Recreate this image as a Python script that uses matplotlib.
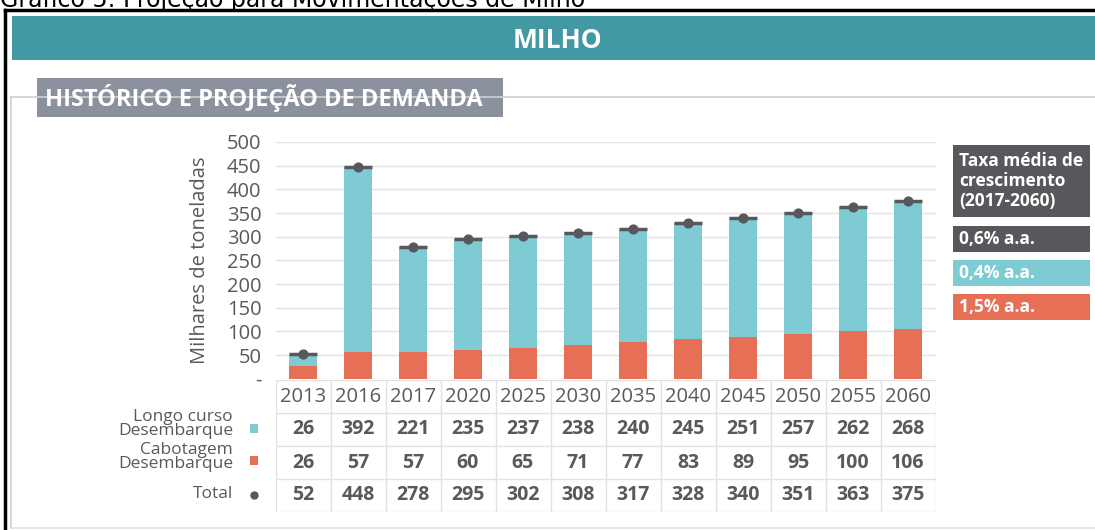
import matplotlib.pyplot as plt
from matplotlib.patches import Rectangle

years = ["2013", "2016", "2017", "2020", "2025", "2030", "2035", "2040", "2045", "2050", "2055", "2060"]
longo_curso = [26, 392, 221, 235, 237, 238, 240, 245, 251, 257, 262, 268]
cabotagem = [26, 57, 57, 60, 65, 71, 77, 83, 89, 95, 100, 106]
total = [52, 448, 278, 295, 302, 308, 317, 328, 340, 351, 363, 375]
taxas = ["0,6% a.a.", "0,4% a.a.", "1,5% a.a."]

CYAN = "#7ECBD3"
ORANGE = "#E76F56"
DARK = "#58585C"
TEAL = "#4298A3"
SUBGRAY = "#8B929E"
TXT = "#595959"
FONT = ["Open Sans", "DejaVu Sans"]

W, H = 1095, 530
fig = plt.figure(figsize=(W / 100, H / 100), dpi=100)


def fx(px):
    return px / W


def fy(py):
    return 1 - py / H


def box(x0, y0, x1, y1, color, **kw):
    fig.add_artist(Rectangle((fx(x0), fy(y1)), fx(x1 - x0), (y1 - y0) / H,
                             transform=fig.transFigure, facecolor=color,
                             edgecolor="none", **kw))


# caption, cut at top edge as in the source image
fig.text(fx(0), fy(7), "Gráfico 5: Projeção para Movimentações de Milho",
         fontsize=17, family="DejaVu Sans", color="black", va="baseline")

# frames
fig.add_artist(plt.Line2D([fx(5), 1], [fy(10), fy(10)], color="black", lw=2.5,
                          transform=fig.transFigure))
fig.add_artist(plt.Line2D([fx(5), fx(5)], [fy(10), 0], color="black", lw=2.5,
                          transform=fig.transFigure))
fig.add_artist(plt.Line2D([fx(11), 1], [fy(97), fy(97)], color="#D0D0D0", lw=1.2,
                          transform=fig.transFigure))
fig.add_artist(plt.Line2D([fx(11), fx(11)], [fy(97), fy(528)], color="#D0D0D0", lw=1.2,
                          transform=fig.transFigure))
fig.add_artist(plt.Line2D([fx(11), 1], [fy(528), fy(528)], color="#E0E0E0", lw=1.2,
                          transform=fig.transFigure))

# headers
box(12, 16, W, 60, TEAL)
fig.text(fx(557), fy(40), "MILHO", color="white", fontsize=19, weight="bold",
         family=FONT, ha="center", va="center")
box(37, 78, 503, 117, SUBGRAY)
fig.text(fx(45), fy(98), "HISTÓRICO E PROJEÇÃO DE DEMANDA", color="white",
         fontsize=17, weight="bold", family=FONT, ha="left", va="center")

# bar chart
ax = fig.add_axes([fx(275.5), fy(378.7), fx(660), (378.7 - 142) / H])
x = list(range(len(years)))
ax.bar(x, cabotagem, width=0.51, color=ORANGE, zorder=2)
ax.bar(x, longo_curso, width=0.51, bottom=cabotagem, color=CYAN, zorder=2)
ax.hlines(total, [i - 0.255 for i in x], [i + 0.255 for i in x], color=DARK, lw=2.5, zorder=3)
ax.scatter(x, total, s=40, color=DARK, zorder=4)
ax.set_xlim(-0.5, 11.5)
ax.set_ylim(0, 500)
ax.set_yticks(range(0, 501, 50))
ax.set_yticklabels(["-"] + [str(v) for v in range(50, 501, 50)])
ax.tick_params(axis="y", length=0, labelsize=14.5, labelcolor=TXT, pad=10)
ax.tick_params(axis="x", length=0, labelbottom=False)
for lab in ax.get_yticklabels():
    lab.set_family(FONT)
ax.grid(axis="y", color="#E3E3E3", lw=1, zorder=0)
for s in ax.spines.values():
    s.set_visible(False)
ax.set_ylabel("Milhares de toneladas", fontsize=14.5, color=TXT, family=FONT, labelpad=12)

# data table
tab = fig.add_axes([fx(275.5), fy(512), fx(660), (512 - 380) / H])
tab.set_xlim(-0.5, 11.5)
tab.set_ylim(0, 4)
tab.axis("off")
for i in range(13):
    tab.plot([i - 0.5, i - 0.5], [0, 4], color="#E2E2E2", lw=1)
for r in range(5):
    tab.plot([-0.5, 11.5], [r, r], color="#E2E2E2", lw=1)
for i, yr in enumerate(years):
    tab.text(i, 3.5, yr, ha="center", va="center", fontsize=14.5, color=TXT, family=FONT)
    tab.text(i, 2.5, str(longo_curso[i]), ha="center", va="center", fontsize=14,
             color=TXT, weight="bold", family=FONT)
    tab.text(i, 1.5, str(cabotagem[i]), ha="center", va="center", fontsize=14,
             color=TXT, weight="bold", family=FONT)
    tab.text(i, 0.5, str(total[i]), ha="center", va="center", fontsize=14,
             color=TXT, weight="bold", family=FONT)

# row labels and keys
row_labels = ["Longo curso\nDesembarque", "Cabotagem\nDesembarque", "Total"]
row_y = [424, 457, 494]
for lab, py in zip(row_labels, row_y):
    fig.text(fx(233), fy(py), lab, ha="right", va="center", fontsize=12.5,
             color=TXT, family=FONT, linespacing=0.8)
box(250, 424, 258, 433, CYAN)
box(250, 456, 258, 465, ORANGE)
fig.add_artist(plt.Line2D([fx(254)], [fy(495)], marker="o", ms=5, color=DARK,
                          transform=fig.transFigure))

# growth rate boxes
box(953, 145, 1090, 217, DARK)
fig.text(fx(959), fy(181), "Taxa média de\ncrescimento\n(2017-2060)", color="white",
         fontsize=12.5, weight="bold", family=FONT, va="center", ha="left", linespacing=1.15)
for txt, col, (y0, y1) in zip(taxas, [DARK, CYAN, ORANGE],
                              [(226, 252), (260, 286), (294, 320)]):
    box(953, y0, 1090, y1, col)
    fig.text(fx(959), fy((y0 + y1) / 2), txt, color="white", fontsize=12.5,
             weight="bold", family=FONT, va="center", ha="left")

fig.savefig("out.png", dpi=100)
